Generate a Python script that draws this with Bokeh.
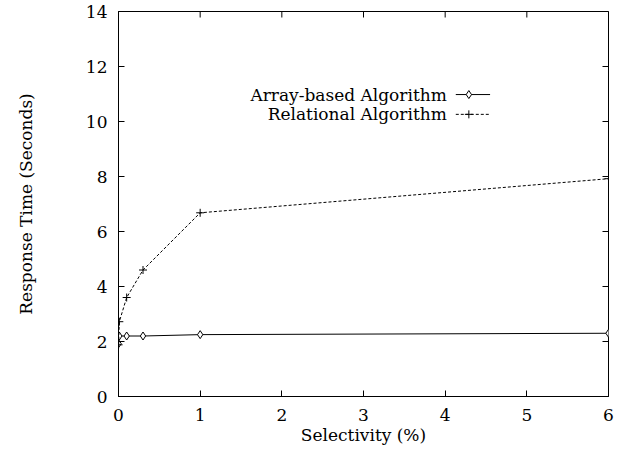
import math
from bokeh.plotting import figure
from bokeh.models import Range1d, FixedTicker, Label
from bokeh.embed import file_html
from bokeh.resources import INLINE

# data
selectivity = [0.001, 0.01, 0.1, 0.3, 1, 6]
array_based = [1.92, 2.2, 2.2, 2.2, 2.25, 2.3]
relational = [1.88, 2.72, 3.6, 4.6, 6.68, 7.92]
x_ticks = [0, 1, 2, 3, 4, 5, 6]
y_ticks = [0, 2, 4, 6, 8, 10, 12, 14]
legend_labels = ["Array-based Algorithm", "Relational Algorithm"]

FONT = "DejaVu Serif"
FS = "17px"

p = figure(width=620, height=450, output_backend="svg", toolbar_location=None,
           x_range=Range1d(0, 6), y_range=Range1d(0, 14),
           min_border_left=118, min_border_right=12, min_border_top=11, min_border_bottom=54)
p.grid.visible = False
p.outline_line_color = "black"
p.outline_line_width = 1
p.background_fill_color = "white"
p.border_fill_color = "white"

for ax in (p.xaxis[0], p.yaxis[0]):
    ax.major_tick_in = 6
    ax.major_tick_out = 0
    ax.minor_tick_in = 0
    ax.minor_tick_out = 0
    ax.major_label_text_font = FONT
    ax.major_label_text_font_size = FS
    ax.major_label_text_color = "black"
    ax.axis_label_text_font = FONT
    ax.axis_label_text_font_size = FS
    ax.axis_label_text_font_style = "normal"
    ax.axis_label_text_color = "black"
    ax.axis_line_color = "black"
    ax.major_tick_line_color = "black"

p.xaxis[0].ticker = FixedTicker(ticks=x_ticks)
p.yaxis[0].ticker = FixedTicker(ticks=y_ticks)
p.xaxis[0].axis_label = "Selectivity (%)"
p.yaxis[0].axis_label = "Response Time (Seconds)"
p.xaxis[0].major_label_standoff = 12
p.yaxis[0].major_label_standoff = 11
p.xaxis[0].axis_label_standoff = 1
p.yaxis[0].axis_label_standoff = 47

# mirrored inward ticks on the right and top borders (clipped to the frame)
p.scatter([x_ticks[-1]] * len(y_ticks), y_ticks, marker="dash", size=12,
          line_color="black", line_width=1)
p.scatter(x_ticks, [y_ticks[-1]] * len(x_ticks), marker="dash", size=12, angle=math.pi / 2,
          line_color="black", line_width=1)

# series
p.line(selectivity, array_based, line_color="black", line_width=1)
p.scatter(selectivity, array_based, marker="diamond", size=8, fill_color="white",
          line_color="black", line_width=1)
p.line(selectivity, relational, line_color="black", line_width=1, line_dash="3 2")
p.scatter(selectivity, relational, marker="cross", size=8, line_color="black", line_width=1)

# legend (gnuplot style: text right-aligned, sample to the right)
lx0, lx1, lxm = 4.13, 4.55, 4.29
rows_y = [10.98, 10.26]
for label, yv in zip(legend_labels, rows_y):
    p.add_layout(Label(x=4.02, y=yv, text=label, text_align="right", text_baseline="middle",
                       text_font=FONT, text_font_size=FS, text_color="black"))
p.line([lx0, lx1], [rows_y[0]] * 2, line_color="black", line_width=1)
p.scatter([lxm], [rows_y[0]], marker="diamond", size=8, fill_color="white", line_color="black")
p.line([lx0, lx1], [rows_y[1]] * 2, line_color="black", line_width=1, line_dash="3 2")
p.scatter([lxm], [rows_y[1]], marker="cross", size=8, line_color="black")

open("out.html", "w").write(file_html(p, INLINE))
